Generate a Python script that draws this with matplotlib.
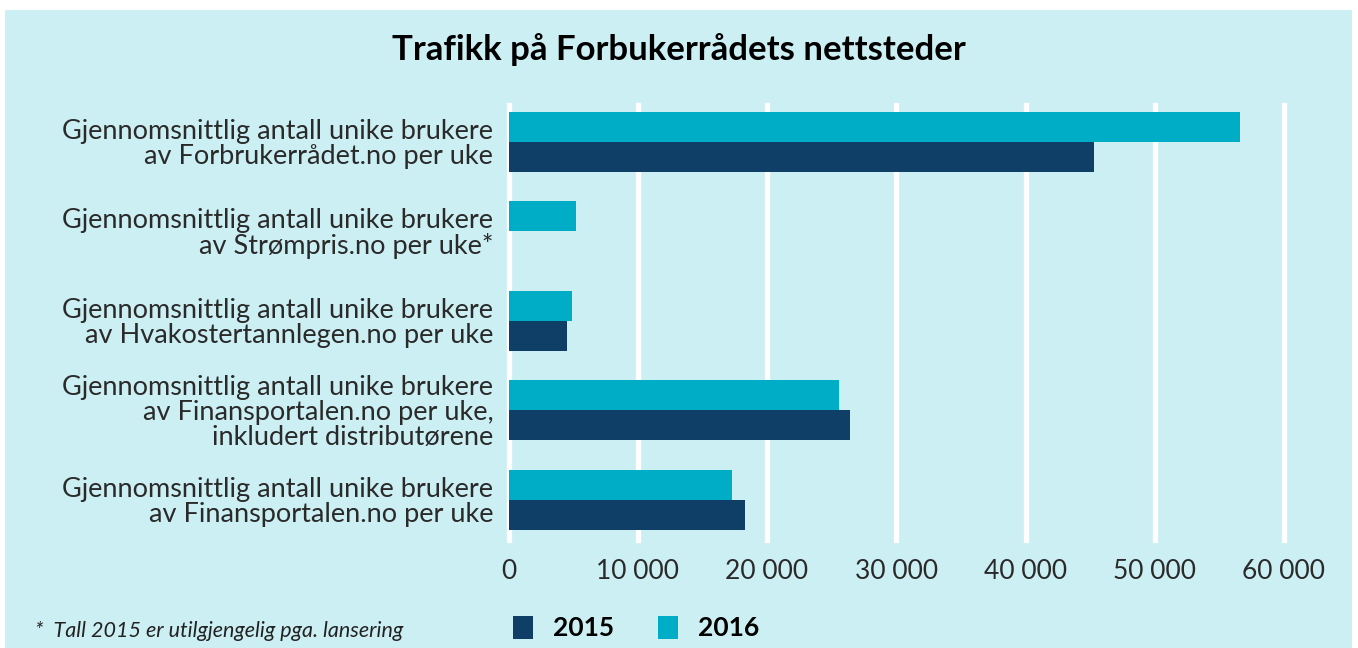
import matplotlib
matplotlib.use("Agg")
import matplotlib.pyplot as plt
from matplotlib.patches import Rectangle

# ----------------------------
# DATA
# ----------------------------
categories = [
    "Gjennomsnittlig antall unike brukere\nav Forbrukerrådet.no per uke",
    "Gjennomsnittlig antall unike brukere\nav Strømpris.no per uke*",
    "Gjennomsnittlig antall unike brukere\nav Hvakostertannlegen.no per uke",
    "Gjennomsnittlig antall unike brukere\nav Finansportalen.no per uke,\ninkludert distributørene",
    "Gjennomsnittlig antall unike brukere\nav Finansportalen.no per uke",
]
values_2016 = [56600, 5250, 4900, 25600, 17300]
values_2015 = [45300, 0, 4500, 26400, 18300]
xticks = [0, 10000, 20000, 30000, 40000, 50000, 60000]

title = "Trafikk på Forbukerrådets nettsteder"
footnote = "*  Tall 2015 er utilgjengelig pga. lansering"

c2015 = "#0f3f66"
c2016 = "#00adc6"
bg = "#cceff3"
font = "Lato"

# ----------------------------
# FIGURE
# ----------------------------
fig = plt.figure(figsize=(13.58, 6.48), dpi=100)
fig.patch.set_facecolor("white")
fig.patches.append(Rectangle((5 / 1358, 0), 1347 / 1358, 638 / 648,
                             transform=fig.transFigure, facecolor=bg,
                             edgecolor="none", zorder=-10))

ax = fig.add_axes([508.5 / 1358, 1 - 540 / 648, 775.5 / 1358, 435 / 648])
ax.set_facecolor("none")
ax.set_zorder(2)

n = len(categories)
pos = [n - 1 - i for i in range(n)]
h = 0.335
ax.barh([p + h / 2 for p in pos], values_2016, height=h, color=c2016, zorder=3)
ax.barh([p - h / 2 for p in pos], values_2015, height=h, color=c2015, zorder=3)

ax.set_xlim(0, 60000)
ax.set_ylim(-0.45, 4.41)
ax.set_xticks(xticks)
ax.set_xticklabels([f"{v:,}".replace(",", " ") for v in xticks],
                   fontsize=19, family=font)
ax.set_yticks(pos)
ax.set_yticklabels(categories, fontsize=19.5, family=font, linespacing=1.0)
ax.tick_params(length=0, pad=11, labelcolor="#2a2a2a")
ax.tick_params(axis="x", pad=14)
for g in xticks:
    ax.axvline(g, color="white", linewidth=3.8, zorder=1, clip_on=False)
for s in ax.spines.values():
    s.set_visible(False)

fig.text(679 / 1358, 1 - 50 / 648, title, ha="center", va="center",
         fontsize=25, fontweight="bold", family=font)

fig.text(35 / 1358, 1 - 631 / 648, footnote, ha="left", va="center",
         fontsize=15.5, style="italic", family=font, color="#222222")

# legend
for x, lab, col in [(513, "2015", c2015), (658, "2016", c2016)]:
    fig.patches.append(Rectangle((x / 1358, 1 - 639 / 648), 20 / 1358, 23 / 648,
                                 transform=fig.transFigure, facecolor=col,
                                 edgecolor="none"))
    fig.text((x + 40) / 1358, 1 - 628 / 648, lab, ha="left", va="center",
             fontsize=19, fontweight="bold", family=font)

fig.savefig("out.png", dpi=100, facecolor=fig.get_facecolor())
